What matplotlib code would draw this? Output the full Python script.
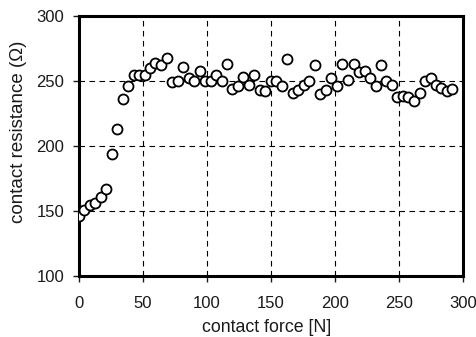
import numpy as np
import matplotlib.pyplot as plt

plt.rcParams['font.family'] = ['Liberation Sans', 'DejaVu Sans']

# contact force [N]
force = [0, 4.2, 8.3, 12.8, 16.9, 21.4, 25.8, 30, 34.4, 38.5, 42.7, 46.9, 51.3, 55.5,
         59.6, 64, 68.8, 72.9, 77.3, 81.5, 85.7, 90.1, 94.3, 98.4, 102.9, 107.3, 111.5,
         115.9, 120, 124.5, 128.6, 133, 137.2, 141.4, 145.8, 150, 154.4, 158.6, 163,
         167.2, 171.6, 175.8, 180.2, 184.4, 188.8, 193.2, 197.4, 201.8, 206, 210.4,
         214.8, 219, 223.4, 227.6, 232, 236.2, 240.4, 244.8, 249, 253.4, 257.6, 262,
         266.4, 270.6, 275, 279.2, 283.3, 287.8, 292]
# contact resistance (Ohm)
resistance = [146, 151, 155, 156, 161, 167, 194, 213, 236, 246, 255, 255, 255, 260,
              264, 262, 268, 249, 250, 261, 252, 250, 258, 250, 250, 255, 250,
              263, 244, 246, 253, 247, 255, 243, 242, 250, 250, 246, 267,
              241, 243, 247, 250, 262, 240, 243, 252, 246, 263, 251,
              263, 257, 258, 252, 246, 262, 250, 247, 238, 238.5, 238, 235,
              241, 250, 252, 247, 244.5, 242.5, 244]

xticks = [0, 50, 100, 150, 200, 250, 300]
yticks = [100, 150, 200, 250, 300]

fig = plt.figure(figsize=(4.76, 3.37), dpi=100)
ax = fig.add_axes([79/476, 1-276/337, (462.7-79)/476, (276-16)/337])

ax.plot(force, resistance, 'o', mfc='white', mec='black', ms=7.2, mew=1.3, zorder=3)

ax.set_xlim(0, 300)
ax.set_ylim(100, 300)
ax.set_xticks(xticks)
ax.set_yticks(yticks)
ax.grid(True, color='black', linestyle=(0, (5, 4)), linewidth=0.8)

for s in ax.spines.values():
    s.set_linewidth(2.2)
ax.tick_params(direction='out', length=4.5, width=1, labelsize=12, colors='#1a1a1a')
ax.tick_params(axis='x', pad=10)
ax.tick_params(axis='y', pad=6)

ax.set_xlabel('contact force [N]', fontsize=12.8, color='#1a1a1a')
ax.set_ylabel('contact resistance (\u03a9)', fontsize=13.5, color='#1a1a1a')
ax.xaxis.set_label_coords(0.489, -0.165)
ax.yaxis.set_label_coords(-0.136, 0.555)

fig.savefig('out.png', dpi=100)
